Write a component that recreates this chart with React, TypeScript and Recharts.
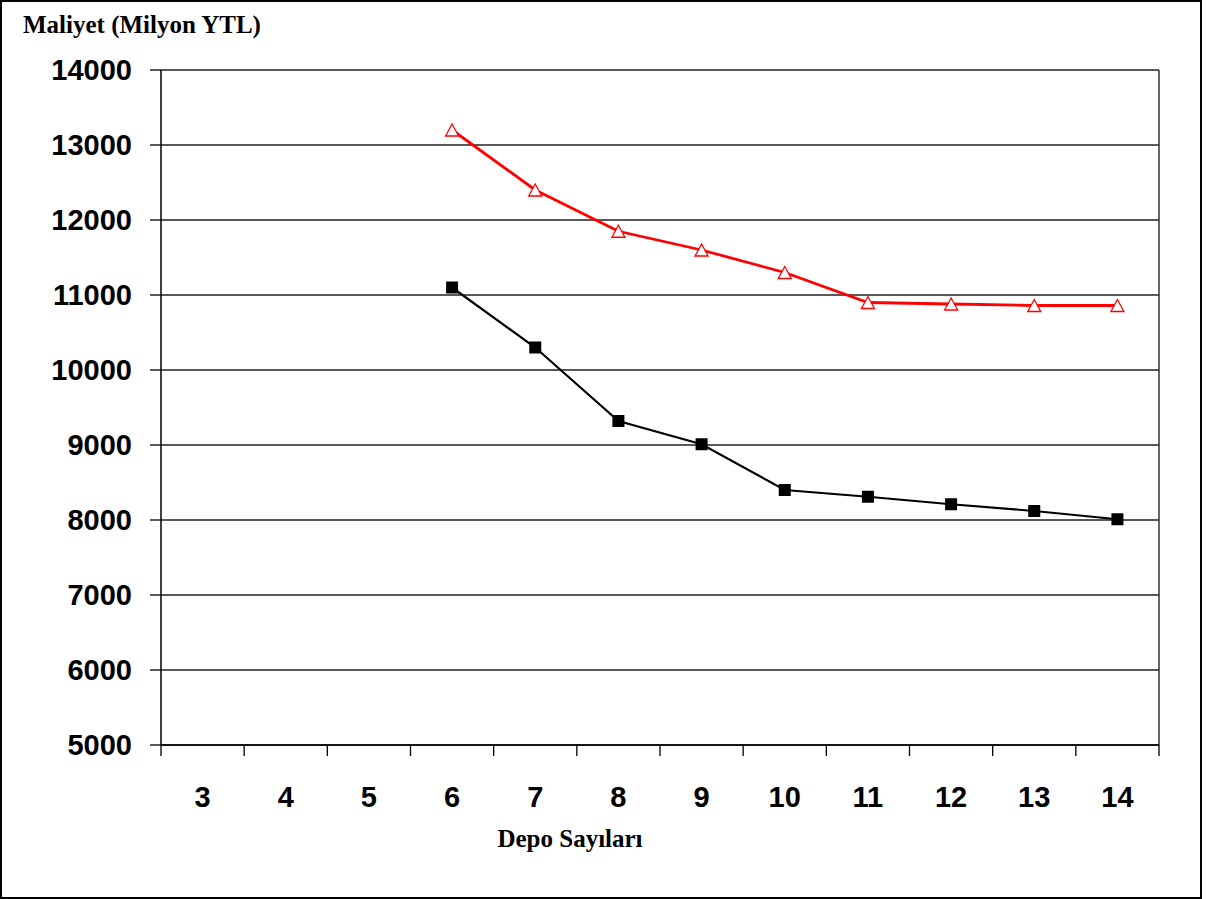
import React from "react";
import { LineChart, Line, XAxis, YAxis, CartesianGrid, ReferenceLine } from "recharts";

// Depo sayısı (kategori)
const depots = [3, 4, 5, 6, 7, 8, 9, 10, 11, 12, 13, 14];
// kırmızı seri (üçgen)
const redCost = [null, null, null, 13200, 12400, 11850, 11600, 11300, 10900, 10880, 10860, 10860];
// siyah seri (kare)
const blackCost = [null, null, null, 11100, 10300, 9320, 9010, 8400, 8310, 8210, 8120, 8010];

const yTicks = [5000, 6000, 7000, 8000, 9000, 10000, 11000, 12000, 13000, 14000];
const boundaryTicks = [2.5, 3.5, 4.5, 5.5, 6.5, 7.5, 8.5, 9.5, 10.5, 11.5, 12.5, 13.5, 14.5];

const data = depots.map((n, i) => ({ n, red: redCost[i], black: blackCost[i] }));

const tickFont = { fontFamily: "'Liberation Sans', Arial, sans-serif", fontWeight: 700, fontSize: 29, fill: "#000" };
const serifBold: React.CSSProperties = {
  position: "absolute",
  fontFamily: "'Liberation Serif', 'Times New Roman', serif",
  fontWeight: 700,
  fontSize: 25,
  lineHeight: "25px",
  color: "#000",
  whiteSpace: "nowrap",
};

const EmptyTick = () => <g />;

const Triangle = (props: any) => {
  const { cx, cy } = props;
  if (cx == null || cy == null || props.value == null) return <g key={props.index} />;
  return (
    <polygon
      key={props.index}
      points={`${cx},${cy - 6} ${cx - 6.5},${cy + 6} ${cx + 6.5},${cy + 6}`}
      fill="#fff"
      stroke="#ff0000"
      strokeWidth={1.3}
    />
  );
};

const Square = (props: any) => {
  const { cx, cy } = props;
  if (cx == null || cy == null || props.value == null) return <g key={props.index} />;
  return <rect key={props.index} x={cx - 6} y={cy - 6} width={12} height={12} fill="#000" />;
};

export default function App() {
  return (
    <div style={{ position: "absolute", left: 0, top: 0, width: 1210, height: 899, background: "#fff" }}>
      <div
        style={{
          position: "absolute",
          left: 0,
          top: 0,
          width: 1202,
          height: 899,
          border: "2px solid #000",
          boxSizing: "border-box",
        }}
      />
      <div style={{ position: "absolute", left: 0, top: 0 }}>
        <LineChart width={1210} height={899} data={data} margin={{ top: 70, right: 51, left: 0, bottom: 82 }}>
          <CartesianGrid vertical={false} stroke="#222" strokeWidth={1.3} yAxisId="left" xAxisId="grid" />
          <XAxis
            xAxisId="grid"
            type="number"
            dataKey="n"
            domain={[2.5, 14.5]}
            ticks={boundaryTicks}
            tick={EmptyTick}
            tickSize={11}
            height={12}
            stroke="#000"
            tickLine={{ stroke: "#000", strokeWidth: 1.3 }}
            axisLine={{ stroke: "#000", strokeWidth: 1.5 }}
          />
          <XAxis
            xAxisId="lab"
            type="number"
            dataKey="n"
            domain={[2.5, 14.5]}
            ticks={depots}
            tickLine={false}
            axisLine={false}
            tickSize={0}
            tickMargin={29}
            height={60}
            tick={tickFont}
          />
          <YAxis
            yAxisId="left"
            domain={[5000, 14000]}
            ticks={yTicks}
            width={161}
            tickSize={11}
            tickMargin={18}
            tick={tickFont}
            tickLine={{ stroke: "#000", strokeWidth: 1.3 }}
            axisLine={{ stroke: "#000", strokeWidth: 1.5 }}
          />
          <ReferenceLine x={14.5} xAxisId="grid" yAxisId="left" stroke="#333" strokeWidth={1.5} />
          <Line
            xAxisId="grid"
            yAxisId="left"
            type="linear"
            dataKey="red"
            stroke="#ff0000"
            strokeWidth={2.8}
            dot={Triangle}
            activeDot={false}
            isAnimationActive={false}
          />
          <Line
            xAxisId="grid"
            yAxisId="left"
            type="linear"
            dataKey="black"
            stroke="#000"
            strokeWidth={2.2}
            dot={Square}
            activeDot={false}
            isAnimationActive={false}
          />
        </LineChart>
      </div>
      <div style={{ ...serifBold, left: 23, top: 12 }}>Maliyet (Milyon YTL)</div>
      <div style={{ ...serifBold, left: 570, top: 826, transform: "translateX(-50%)" }}>Depo Sayıları</div>
    </div>
  );
}
